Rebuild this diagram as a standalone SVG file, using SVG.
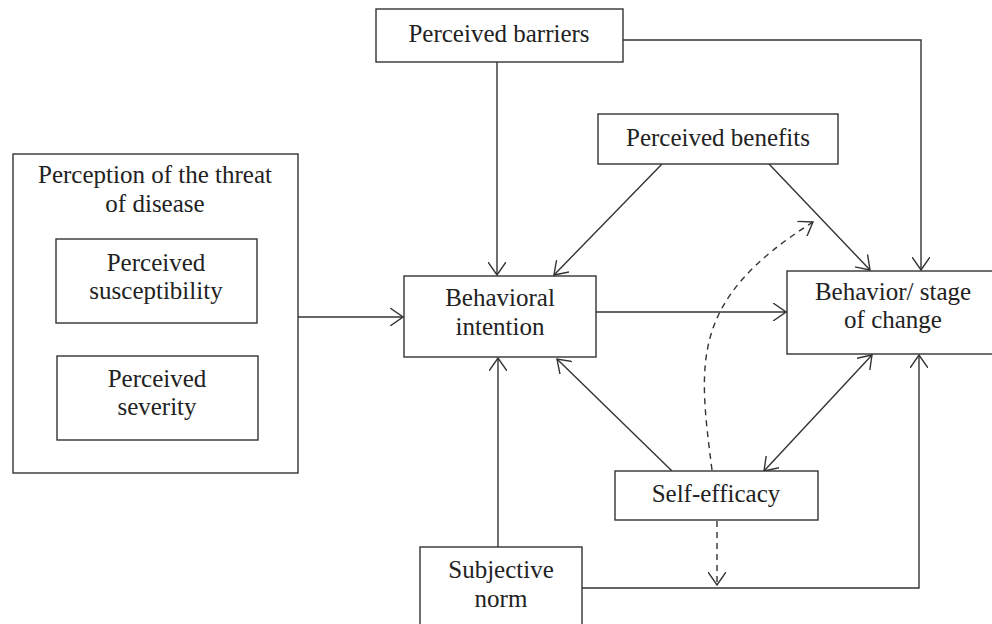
<svg xmlns="http://www.w3.org/2000/svg" width="992" height="624" viewBox="0 0 992 624">
<style>
  .box { fill: #fff; stroke: #333; stroke-width: 1.4; }
  .t { font-family: "Liberation Serif", "Times New Roman", serif; font-size: 25px; fill: #222; text-anchor: middle; }
  .c { fill: none; stroke: #333; stroke-width: 1.4; }
  .arr { marker-end: url(#ah); }
  .dash { stroke-dasharray: 6 5; }
</style>
<defs>
  <marker id="ah" markerUnits="userSpaceOnUse" viewBox="0 0 14 18" markerWidth="14" markerHeight="18" refX="13" refY="9" orient="auto">
    <path d="M0,0 L13,9 L0,18" fill="none" stroke="#333" stroke-width="1.4"/>
  </marker>
  <marker id="ahs" markerUnits="userSpaceOnUse" viewBox="0 0 14 18" markerWidth="14" markerHeight="18" refX="13" refY="9" orient="auto-start-reverse">
    <path d="M0,0 L13,9 L0,18" fill="none" stroke="#333" stroke-width="1.4"/>
  </marker>
</defs>
<rect width="992" height="624" fill="#fff"/>

<g id="connectors">
  <path class="c arr" d="M623,40 H921 V270"/>
  <path class="c arr" d="M497,62 V275"/>
  <path class="c arr" d="M662,164 L554,275"/>
  <path class="c arr" d="M769,164 L870,270"/>
  <path class="c arr" d="M298,317 H403"/>
  <path class="c arr" d="M596,312 H786"/>
  <path class="c arr" d="M498,547 V358"/>
  <path class="c arr" d="M582,588 H919 V355"/>
  <path class="c arr" d="M672,471 L557,359"/>
  <path class="c" marker-start="url(#ahs)" marker-end="url(#ahs)" d="M764,471 L872,355"/>
  <path class="c dash arr" d="M717,521 V585"/>
  <path class="c dash arr" d="M712,470 C698,360 690,300 813,222"/>
</g>

<g id="perception">
  <rect class="box" x="13" y="154" width="285" height="319"/>
  <text class="t" x="155" y="183">Perception of the threat</text>
  <text class="t" x="155" y="212">of disease</text>
</g>
<g id="susceptibility">
  <rect class="box" x="56" y="239" width="201" height="84"/>
  <text class="t" x="156" y="271">Perceived</text>
  <text class="t" x="156" y="299">susceptibility</text>
</g>
<g id="severity">
  <rect class="box" x="57" y="356" width="201" height="84"/>
  <text class="t" x="157" y="387">Perceived</text>
  <text class="t" x="157" y="415">severity</text>
</g>
<g id="barriers">
  <rect class="box" x="376" y="9" width="247" height="53"/>
  <text class="t" x="499" y="42">Perceived barriers</text>
</g>
<g id="benefits">
  <rect class="box" x="598" y="114" width="240" height="50"/>
  <text class="t" x="718" y="146">Perceived benefits</text>
</g>
<g id="intention">
  <rect class="box" x="404" y="276" width="192" height="81"/>
  <text class="t" x="500" y="306">Behavioral</text>
  <text class="t" x="500" y="335">intention</text>
</g>
<g id="behavior">
  <rect class="box" x="787" y="271" width="215" height="83"/>
  <text class="t" x="893" y="300">Behavior/ stage</text>
  <text class="t" x="893" y="328">of change</text>
</g>
<g id="selfefficacy">
  <rect class="box" x="615" y="471" width="203" height="49"/>
  <text class="t" x="716" y="502">Self-efficacy</text>
</g>
<g id="norm">
  <rect class="box" x="420" y="547" width="162" height="85"/>
  <text class="t" x="501" y="578">Subjective</text>
  <text class="t" x="501" y="607">norm</text>
</g>
</svg>
